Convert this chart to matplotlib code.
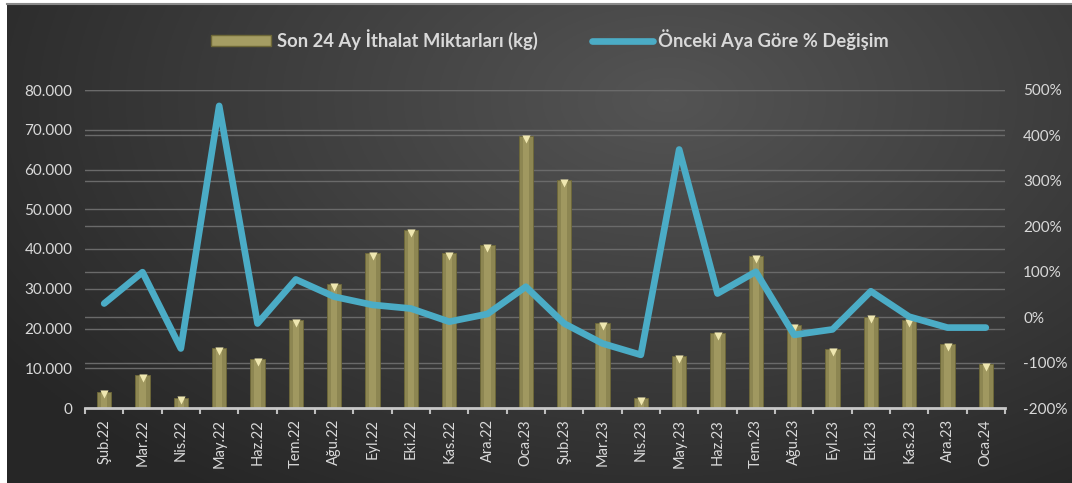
import numpy as np
import matplotlib
matplotlib.use("Agg")
import matplotlib.pyplot as plt
from matplotlib.ticker import FuncFormatter, FixedLocator
from matplotlib.transforms import blended_transform_factory
from matplotlib.lines import Line2D
from matplotlib.patches import Patch

# ---- data ----
months = ["Şub.22", "Mar.22", "Nis.22", "May.22", "Haz.22", "Tem.22", "Ağu.22", "Eyl.22",
          "Eki.22", "Kas.22", "Ara.22", "Oca.23", "Şub.23", "Mar.23", "Nis.23", "May.23",
          "Haz.23", "Tem.23", "Ağu.23", "Eyl.23", "Eki.23", "Kas.23", "Ara.23", "Oca.24"]
imports_kg = [4100, 8200, 2600, 15100, 12300, 22200, 31100, 38900,
              44700, 38900, 41000, 68400, 57300, 21300, 2500, 13100,
              18800, 38200, 20900, 14800, 23000, 22100, 16000, 11100]
pct_change = [30, 99, -69, 465, -14, 83, 45, 27,
              19, -10, 7, 67, -14, -58, -83, 369,
              52, 100, -39, -27, 57, 1, -23, -23]
bar_label = "Son 24 Ay İthalat Miktarları (kg)"
line_label = "Önceki Aya Göre % Değişim"
left_ticks = [0, 10000, 20000, 30000, 40000, 50000, 60000, 70000, 80000]
right_ticks = [-200, -100, 0, 100, 200, 300, 400, 500]

W, H = 1072, 483
plt.rcParams['font.family'] = ['Lato', 'DejaVu Sans']
fig = plt.figure(figsize=(W / 100, H / 100), dpi=100)
fig.patch.set_facecolor("white")

# background gradient panel
bg = fig.add_axes([7 / W, 0, 1 - 7 / W, 1 - 4 / H])
bg.set_axis_off()
yy, xx = np.mgrid[0:1:300j, 0:1:600j]
d = np.sqrt(((xx - 0.62) / 0.75) ** 2 + ((yy - 0.2) / 1.0) ** 2)
val = np.clip(1 - d, 0, 1)
base = 0.15 + 0.18 * val
img = np.dstack([base, base, base])
bg.imshow(img, aspect="auto", extent=[0, 1, 0, 1], origin="upper")
bg.set_xlim(0, 1)
bg.set_ylim(0, 1)
bg.plot([0, 1], [1, 1], color="#8a8a8a", lw=1.5, transform=bg.transAxes, clip_on=False)

txt = "#d9d9d9"
ax = fig.add_axes([85 / W, 1 - 408 / H, 920 / W, 318 / H])
ax.patch.set_alpha(0)
ax2 = ax.twinx()
ax2.patch.set_alpha(0)

x = np.arange(len(months))
bw = 0.37
ax.bar(x, imports_kg, width=bw, color="#8d8652", edgecolor="#6e6838", linewidth=0.6, zorder=3)
ax.bar(x, imports_kg, width=bw * 0.45, color="#b0a86c", alpha=0.55, linewidth=0, zorder=4)
ax.scatter(x, np.array(imports_kg) - 700, marker="v", s=34, color="#efe7b0", zorder=5, linewidths=0)

ax.set_xlim(-0.5, len(months) - 0.5)
ax.set_ylim(0, 80000)
ax2.set_ylim(-200, 500)

# gridlines (both scales) drawn under bars
for v in left_ticks[1:]:
    ax.axhline(v, color="#6a6a6a", lw=1.0, zorder=1)
tr = blended_transform_factory(ax.transAxes, ax2.transData)
for v in right_ticks[1:]:
    ax.plot([0, 1], [v, v], color="#6a6a6a", lw=1.0, transform=tr, zorder=1)

ax2.plot(x, pct_change, color="#4bacc6", lw=4.8, solid_joinstyle="round",
         solid_capstyle="round", zorder=6)

ax.set_yticks(left_ticks)
ax.yaxis.set_major_formatter(FuncFormatter(lambda v, p: f"{int(v):,}".replace(",", ".")))
ax2.set_yticks(right_ticks)
ax2.yaxis.set_major_formatter(FuncFormatter(lambda v, p: f"{int(v)}%"))

ax.set_xticks(x)
ax.set_xticklabels(months, rotation=90, color=txt, fontsize=10.5)
ax.xaxis.set_minor_locator(FixedLocator(np.arange(-0.5, len(months), 1)))
ax.tick_params(axis="x", which="major", length=0, pad=8)
ax.tick_params(axis="x", which="minor", length=4, width=1.5, color="#bfbfbf", direction="out")
ax.tick_params(axis="y", length=0, labelcolor=txt, labelsize=11, pad=9)
ax2.tick_params(axis="y", length=0, labelcolor=txt, labelsize=11, pad=13)

for a in (ax, ax2):
    for s in a.spines.values():
        s.set_visible(False)
ax.spines["bottom"].set_visible(True)
ax.spines["bottom"].set_color("#c8c8c8")
ax.spines["bottom"].set_linewidth(2)
ax.spines["bottom"].set_zorder(6)

handles = [Patch(facecolor="#a59d63", edgecolor="#6e6838"),
           Line2D([0], [0], color="#4bacc6", lw=4.8, solid_capstyle="round")]
leg = fig.legend(handles, [bar_label, line_label], loc="center", ncol=2,
                 bbox_to_anchor=(0.513, 1 - 40 / H), frameon=False,
                 handlelength=3.3, handleheight=0.55, columnspacing=3.0, handletextpad=0.3,
                 prop={"weight": "bold", "size": 13.2})
for t in leg.get_texts():
    t.set_color(txt)

fig.savefig("out.png", dpi=100, facecolor=fig.get_facecolor())
